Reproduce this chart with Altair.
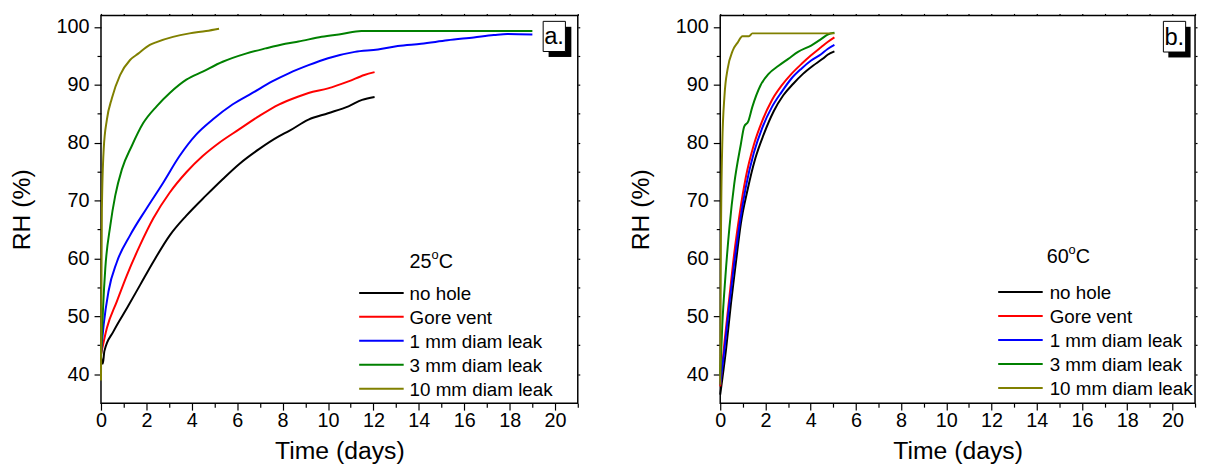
import altair as alt
import pandas as pd

SERIES = ["no hole", "Gore vent", "1 mm diam leak", "3 mm diam leak", "10 mm diam leak"]
COLORS = ["#000000", "#ff0000", "#0000ff", "#008000", "#808000"]

# ---------------- Panel a (25 C) ----------------
a_nohole_t = [0, 0.08, 0.15, 0.55, 1.14, 1.72, 2.3, 3.03, 3.76, 4.63, 5.36, 6.08, 6.96, 7.83, 8.27, 9.14, 10.0, 10.9, 11.5, 12.05]
a_nohole_rh = [43.0, 41.8, 44.0, 47.4, 51.4, 55.4, 59.4, 64.0, 67.4, 70.9, 73.7, 76.3, 78.9, 81.1, 82.0, 84.0, 85.1, 86.3, 87.4, 87.9]

a_gore_t = [0, 0.26, 0.7, 1.14, 1.72, 2.3, 3.03, 3.76, 4.48, 5.21, 6.08, 6.96, 7.83, 8.7, 9.14, 10.0, 10.9, 11.6, 12.05]
a_gore_rh = [43.4, 48.0, 52.6, 57.1, 62.3, 66.9, 71.4, 74.9, 77.7, 80.0, 82.3, 84.6, 86.6, 88.0, 88.6, 89.4, 90.6, 91.7, 92.2]

a_1mm_t = [0, 0.12, 0.33, 0.7, 1.28, 2.0, 2.74, 3.46, 4.19, 4.92, 5.79, 6.67, 7.54, 8.27, 9.14, 10.0, 11.18, 12.2, 13.07, 14.1, 15.26, 16.42, 17.3, 17.9, 19.0]
a_1mm_rh = [43.4, 48.6, 54.3, 59.4, 64.0, 68.6, 73.1, 77.7, 81.4, 84.0, 86.6, 88.6, 90.6, 92.0, 93.4, 94.6, 95.7, 96.1, 96.7, 97.1, 97.7, 98.2, 98.6, 98.8, 98.7]

a_3mm_t = [0, 0.09, 0.19, 0.41, 0.63, 0.92, 1.35, 1.86, 2.45, 3.03, 3.76, 4.48, 5.36, 6.38, 7.25, 8.12, 8.7, 9.72, 10.6, 11.47, 19.0]
a_3mm_rh = [42.9, 51.4, 58.3, 65.7, 70.9, 75.4, 79.4, 83.4, 86.3, 88.6, 90.9, 92.3, 94.0, 95.4, 96.3, 97.1, 97.5, 98.3, 98.8, 99.3, 99.3]

a_10mm_t = [0, 0.02, 0.04, 0.12, 0.26, 0.48, 0.84, 1.28, 1.64, 2.15, 2.45, 3.17, 3.9, 4.63, 5.2]
a_10mm_rh = [38.9, 55.0, 68.6, 78.9, 84.0, 87.7, 91.7, 94.3, 95.4, 96.9, 97.4, 98.3, 98.9, 99.3, 99.7]

# ---------------- Panel b (60 C) ----------------
b_nohole_t = [0, 0.26, 0.48, 0.69, 0.91, 1.2, 1.56, 1.92, 2.36, 2.79, 3.23, 3.66, 4.1, 4.53, 4.75, 5.05]
b_nohole_rh = [36.5, 44.4, 52.4, 59.2, 66.0, 71.7, 77.4, 81.4, 85.4, 88.2, 90.2, 91.9, 93.3, 94.5, 95.2, 95.8]

b_gore_t = [0, 0.19, 0.41, 0.62, 0.84, 1.13, 1.49, 1.85, 2.29, 2.72, 3.15, 3.59, 4.02, 4.46, 4.75, 5.05]
b_gore_rh = [37.9, 45.6, 53.5, 60.9, 67.2, 74.0, 79.7, 83.7, 87.4, 89.9, 91.9, 93.6, 95.1, 96.5, 97.4, 98.2]

b_1mm_t = [0, 0.19, 0.41, 0.62, 0.84, 1.13, 1.49, 1.85, 2.29, 2.72, 3.15, 3.59, 4.02, 4.46, 4.75, 5.05]
b_1mm_rh = [38.2, 44.4, 52.4, 59.2, 65.5, 72.3, 78.3, 82.5, 86.2, 88.8, 91.1, 92.8, 94.2, 95.3, 96.2, 96.9]

b_3mm_t = [0, 0.09, 0.23, 0.41, 0.62, 0.91, 1.06, 1.24, 1.42, 1.78, 2.14, 2.58, 3.01, 3.44, 4.02, 4.46, 4.75, 5.05]
b_3mm_rh = [39.9, 48.4, 56.9, 65.5, 72.9, 79.7, 82.8, 83.7, 86.2, 89.9, 91.9, 93.3, 94.5, 95.7, 96.8, 97.9, 98.7, 99.0]

b_10mm_t = [0, 0.03, 0.09, 0.19, 0.33, 0.55, 0.77, 0.98, 1.27, 1.42, 5.05]
b_10mm_rh = [38.2, 62.6, 79.7, 88.2, 92.8, 95.9, 97.3, 98.4, 98.4, 98.9, 98.9]

X_TICKS = list(range(0, 22))
Y_TICKS = list(range(40, 101, 5))
FONT = "Liberation Sans"


def build_df(pairs):
    rows = []
    for name, (ts, rs) in zip(SERIES, pairs):
        for i, (t, r) in enumerate(zip(ts, rs)):
            rows.append({"series": name, "t": t, "rh": r, "idx": i})
    return pd.DataFrame(rows)


df_a = build_df([(a_nohole_t, a_nohole_rh), (a_gore_t, a_gore_rh), (a_1mm_t, a_1mm_rh),
                 (a_3mm_t, a_3mm_rh), (a_10mm_t, a_10mm_rh)])
df_b = build_df([(b_nohole_t, b_nohole_rh), (b_gore_t, b_gore_rh), (b_1mm_t, b_1mm_rh),
                 (b_3mm_t, b_3mm_rh), (b_10mm_t, b_10mm_rh)])

xs = alt.Scale(domain=[0, 21], nice=False, zero=False)
ys = alt.Scale(domain=[35, 102], nice=False, zero=False)
cs = alt.Scale(domain=SERIES, range=COLORS)

x_axis = alt.Axis(values=X_TICKS, title="Time (days)", labelExpr="datum.value % 2 === 0 ? datum.label : ''",
                  tickSize={"condition": {"test": "datum.value % 2 === 0", "value": 7}, "value": 4},
                  labelFlush=False, labelPadding=1, titlePadding=8, labelFontSize=20, titleFontSize=25)
y_axis = alt.Axis(values=Y_TICKS, title="RH (%)", labelExpr="datum.value % 10 === 0 ? datum.label : ''",
                  tickSize={"condition": {"test": "datum.value % 10 === 0", "value": 7}, "value": 4},
                  labelPadding=5, titlePadding=22, labelFontSize=20, titleFontSize=25)
x_top = alt.Axis(orient="top", values=X_TICKS, labels=False, title=None, tickSize=2)
y_right = alt.Axis(orient="right", values=Y_TICKS, labels=False, title=None, tickSize=2)

ann = pd.DataFrame({"k": [0]})


def panel(df, width, lx0, lx1, ltx, ly0, lstep, num, tx, tby, tag, box, shadow, tagx, tagy):
    lines = alt.Chart(df).mark_line(strokeWidth=2, interpolate="monotone").encode(
        x=alt.X("t:Q", scale=xs, axis=x_axis),
        y=alt.Y("rh:Q", scale=ys, axis=y_axis),
        color=alt.Color("series:N", scale=cs, legend=None),
        order="idx:Q",
    )
    frame = alt.Chart(df).mark_point(opacity=0).encode(
        x=alt.X("t:Q", scale=xs, axis=x_top),
        y=alt.Y("rh:Q", scale=ys, axis=y_right),
    )
    layers = [lines, frame]
    for i, name in enumerate(SERIES):
        d = pd.DataFrame({"series": [name]})
        yy = ly0 + lstep * i
        layers.append(alt.Chart(d).mark_rule(strokeWidth=2).encode(
            x=alt.value(lx0), x2=alt.value(lx1), y=alt.value(yy),
            color=alt.Color("series:N", scale=cs, legend=None)))
        layers.append(alt.Chart(d).mark_text(align="left", baseline="middle", font=FONT, fontSize=19,
                                             color="black").encode(
            x=alt.value(ltx), y=alt.value(yy + 1), text="series:N"))
    # legend title with superscript o
    layers.append(alt.Chart(ann).mark_text(align="left", baseline="alphabetic", font=FONT, fontSize=20,
                                           color="black", text=num).encode(x=alt.value(tx), y=alt.value(tby)))
    layers.append(alt.Chart(ann).mark_text(align="left", baseline="alphabetic", font=FONT, fontSize=13,
                                           color="black", text="o").encode(x=alt.value(tx + 22), y=alt.value(tby - 9)))
    layers.append(alt.Chart(ann).mark_text(align="left", baseline="alphabetic", font=FONT, fontSize=20,
                                           color="black", text="C").encode(x=alt.value(tx + 29.5), y=alt.value(tby)))
    # panel tag box with shadow
    layers.append(alt.Chart(ann).mark_rect(color="black").encode(
        x=alt.value(shadow[0]), x2=alt.value(shadow[1]), y=alt.value(shadow[2]), y2=alt.value(shadow[3])))
    layers.append(alt.Chart(ann).mark_rect(fill="white", stroke="black", strokeWidth=1).encode(
        x=alt.value(box[0]), x2=alt.value(box[1]), y=alt.value(box[2]), y2=alt.value(box[3])))
    layers.append(alt.Chart(ann).mark_text(align="center", baseline="alphabetic", font=FONT, fontSize=24,
                                           color="black", text=tag).encode(x=alt.value(tagx), y=alt.value(tagy)))
    return alt.layer(*layers).resolve_axis(x="independent", y="independent").properties(width=width, height=392)


pa = panel(df_a, 482, 261, 306, 312, 280.5, 24.2, "25", 312, 255, "a.",
           (447, 469.5, 6, 36.5), (452.5, 475.5, 11.5, 42), 458, 29)
pb = panel(df_b, 480, 281, 326, 333, 279.5, 24.3, "60", 330, 250, "b.",
           (448, 470.5, 6, 37), (453, 475.5, 11.5, 42.5), 459, 30)

chart = alt.hconcat(pa, pb, spacing=46).properties(
    padding={"left": 0, "top": 1, "right": 0, "bottom": 0}
).configure_view(stroke="black", strokeWidth=1.5).configure_axis(
    labelFont=FONT, titleFont=FONT, labelColor="black", titleColor="black", tickColor="black",
    tickWidth=1.2, domain=False, grid=False, titleFontWeight="normal"
)

chart.save("out.html", embed_options={"renderer": "svg", "actions": False})
